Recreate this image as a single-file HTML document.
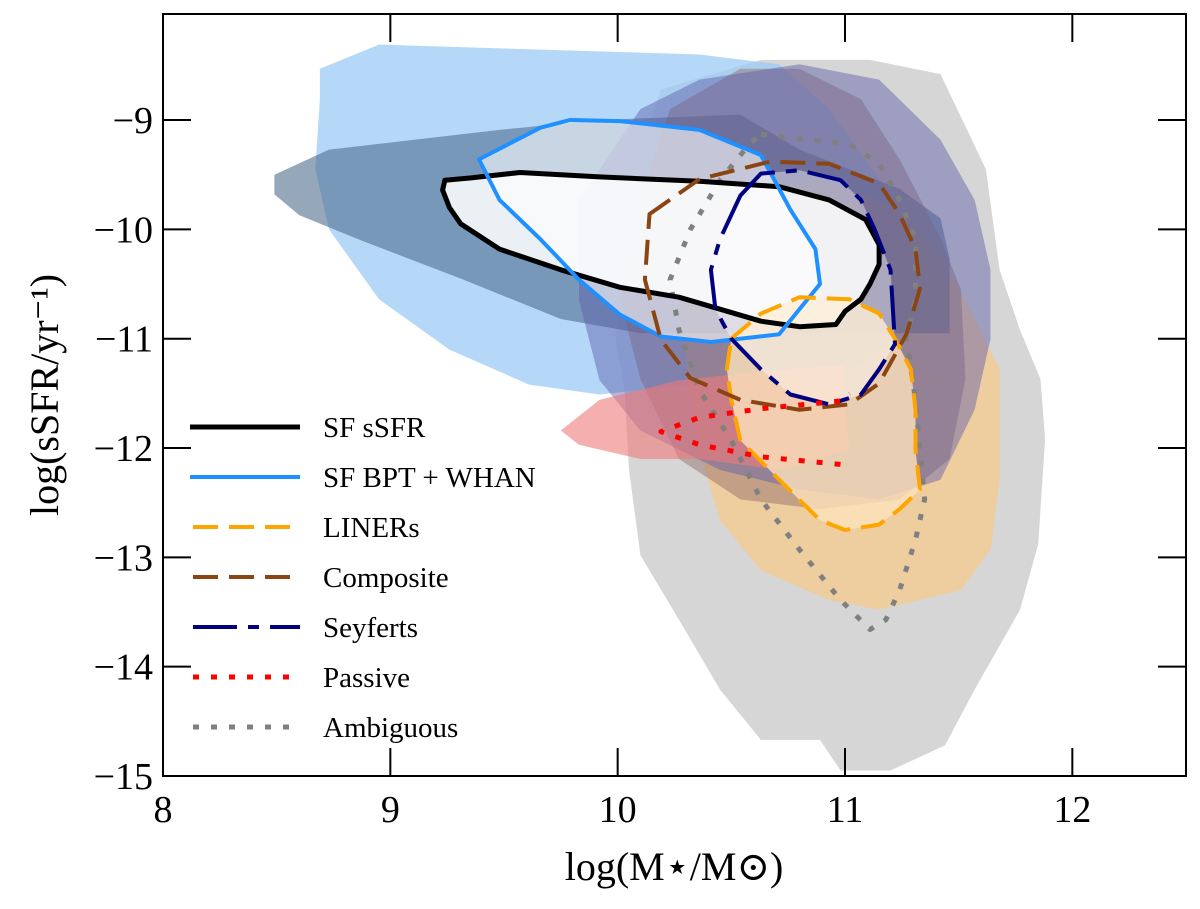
<!DOCTYPE html>
<html><head><meta charset="utf-8"><style>
html,body{margin:0;padding:0;background:#fff;}
svg text{font-family:"Liberation Serif","DejaVu Serif",serif;fill:#000;}
</style></head><body>
<svg id="chart" width="1200" height="904" viewBox="0 0 1200 904" xmlns="http://www.w3.org/2000/svg">
<g id="fills"></g>
<g id="lines"></g>
<g id="axes"></g>
<g id="legend"></g>
</svg>
<script>
const xTicks=[8,9,10,11,12];
const yTicks=[-15,-14,-13,-12,-11,-10,-9];
const xTickLabels=["8","9","10","11","12"];
const yTickLabels=["\u221215","\u221214","\u221213","\u221212","\u221211","\u221210","\u22129"];
const ambFill=[[10.19,-8.72],[10.63,-8.45],[11.11,-8.45],[11.42,-8.58],[11.62,-9.45],[11.68,-10.37],[11.77,-10.92],[11.86,-11.37],[11.88,-11.92],[11.85,-12.88],[11.77,-13.48],[11.57,-14.21],[11.44,-14.72],[11.2,-14.95],[10.98,-14.95],[10.89,-14.67],[10.63,-14.67],[10.45,-14.21],[10.27,-13.57],[10.1,-12.98],[10.05,-12.2],[10.03,-11.47],[9.99,-11.0],[10.05,-10.08],[10.1,-9.27]];
const bptFill=[[8.69,-8.53],[8.95,-8.31],[10.36,-8.4],[10.71,-8.49],[10.93,-8.9],[11.15,-9.54],[11.29,-10.0],[11.33,-10.46],[11.24,-11.0],[11.02,-11.28],[10.58,-11.37],[10.14,-11.46],[9.92,-11.51],[9.61,-11.42],[9.26,-11.1],[8.95,-10.64],[8.73,-10.0],[8.67,-9.45],[8.69,-8.81]];
const ssfrFill=[[8.49,-9.5],[8.73,-9.27],[9.48,-9.09],[9.92,-9.0],[10.54,-8.95],[10.8,-9.27],[11.24,-9.63],[11.42,-9.9],[11.46,-10.27],[11.46,-10.95],[10.36,-10.95],[10.1,-10.95],[9.75,-10.82],[9.31,-10.45],[8.87,-10.1],[8.6,-9.87],[8.49,-9.68]];
const linerFill=[[10.27,-10.17],[10.45,-9.73],[10.89,-9.54],[11.24,-9.82],[11.42,-10.27],[11.55,-10.73],[11.68,-11.28],[11.68,-12.29],[11.64,-12.93],[11.51,-13.3],[11.15,-13.48],[10.93,-13.39],[10.63,-13.12],[10.45,-12.66],[10.36,-12.02],[10.32,-11.47],[10.27,-10.73]];
const compFill=[[10.23,-8.9],[10.54,-8.53],[10.8,-8.53],[11.07,-8.81],[11.24,-9.36],[11.42,-10.08],[11.51,-10.55],[11.53,-11.37],[11.46,-12.1],[11.24,-12.47],[10.89,-12.56],[10.54,-12.47],[10.27,-12.1],[10.1,-11.37],[10.01,-10.64],[10.1,-9.73]];
const seyFill=[[9.83,-9.73],[10.1,-8.9],[10.36,-8.63],[10.8,-8.49],[11.15,-8.63],[11.42,-9.18],[11.57,-9.73],[11.64,-10.37],[11.64,-11.0],[11.57,-11.65],[11.42,-12.29],[11.15,-12.47],[10.8,-12.38],[10.45,-12.2],[10.1,-11.84],[9.92,-11.38],[9.83,-10.65]];
const pasFill=[[9.75,-11.84],[9.92,-11.56],[10.27,-11.38],[10.63,-11.3],[11.0,-11.24],[11.0,-11.56],[11.02,-12.02],[10.71,-12.2],[10.36,-12.1],[10.1,-12.1],[9.83,-11.97]];
const ssfrLine=[[9.24,-9.55],[9.35,-9.53],[9.57,-9.48],[9.92,-9.52],[10.36,-9.56],[10.71,-9.61],[10.93,-9.73],[11.09,-9.91],[11.15,-10.14],[11.15,-10.32],[11.11,-10.5],[11.07,-10.64],[11.0,-10.75],[10.96,-10.87],[10.8,-10.89],[10.63,-10.84],[10.45,-10.73],[10.27,-10.62],[10.01,-10.53],[9.75,-10.37],[9.48,-10.18],[9.31,-9.95],[9.26,-9.8],[9.23,-9.64]];
const bptLine=[[9.39,-9.36],[9.66,-9.07],[9.79,-9.0],[10.01,-9.01],[10.36,-9.09],[10.63,-9.32],[10.76,-9.82],[10.87,-10.18],[10.89,-10.5],[10.71,-10.96],[10.41,-11.03],[10.19,-10.98],[10.01,-10.78],[9.83,-10.46],[9.66,-10.09],[9.48,-9.73]];
const linerLine=[[10.5,-11.0],[10.63,-10.77],[10.8,-10.62],[11.02,-10.64],[11.15,-10.77],[11.22,-11.0],[11.29,-11.28],[11.31,-11.65],[11.31,-12.02],[11.33,-12.38],[11.24,-12.56],[11.15,-12.7],[11.0,-12.75],[10.89,-12.66],[10.71,-12.29],[10.54,-11.93],[10.5,-11.56],[10.48,-11.28]];
const compLine=[[10.14,-9.86],[10.36,-9.54],[10.67,-9.38],[10.93,-9.4],[11.15,-9.58],[11.24,-9.86],[11.31,-10.18],[11.33,-10.54],[11.27,-10.96],[11.15,-11.41],[11.02,-11.6],[10.8,-11.65],[10.54,-11.56],[10.32,-11.36],[10.19,-11.01],[10.12,-10.46]];
const seyLine=[[10.54,-9.69],[10.63,-9.49],[10.8,-9.46],[10.98,-9.55],[11.07,-9.73],[11.13,-10.0],[11.2,-10.37],[11.22,-11.05],[11.15,-11.28],[11.07,-11.51],[10.93,-11.6],[10.76,-11.51],[10.63,-11.28],[10.5,-11.0],[10.43,-10.73],[10.41,-10.37],[10.45,-10.09]];
const pasLine=[[10.98,-12.15],[10.63,-12.08],[10.36,-11.97],[10.19,-11.85],[10.36,-11.72],[10.63,-11.64],[10.98,-11.57],[11.02,-11.5]];
const ambLine=[[10.63,-9.13],[10.8,-9.17],[11.02,-9.22],[11.15,-9.4],[11.24,-9.73],[11.31,-10.09],[11.31,-10.64],[11.27,-11.0],[11.31,-11.56],[11.33,-12.02],[11.35,-12.47],[11.31,-12.84],[11.24,-13.3],[11.18,-13.57],[11.11,-13.66],[10.98,-13.39],[10.8,-12.93],[10.63,-12.47],[10.5,-11.93],[10.36,-11.47],[10.27,-10.92],[10.23,-10.46],[10.32,-10.0],[10.45,-9.55],[10.58,-9.22]];

const L=163,R=1186,T=14,B=776,X0=8,X1=12.5,Y0=-15,Y1=-8.03;
const sx=v=>L+(v-X0)/(X1-X0)*(R-L);
const sy=v=>B-(v-Y0)/(Y1-Y0)*(B-T);
const NS="http://www.w3.org/2000/svg";
function mk(tag,parent){const e=document.createElementNS(NS,tag);document.getElementById(parent).appendChild(e);return e;}
const pts=a=>a.map(p=>sx(p[0]).toFixed(1)+","+sy(p[1]).toFixed(1)).join(" ");

function fill(a,color,op,name){const e=mk("polygon","fills");e.setAttribute("points",pts(a));e.setAttribute("fill",color);e.setAttribute("fill-opacity",op);

}
fill(ambFill,"#c8c8c8",0.75,"ambiguous-fill");
fill(bptFill,"#9ccbf7",0.75,"sf-bpt-fill");
fill(linerFill,"#f5c98c",0.75,"liners-fill");
fill(ssfrFill,"#4f6e8c",0.6,"sf-ssfr-fill");
fill(compFill,"#8e6a66",0.45,"composite-fill");
fill(seyFill,"#5b5ba8",0.45,"seyferts-fill");
fill(pasFill,"#f07a7a",0.6,"passive-fill");
fill(ssfrLine,"#ffffff",0.85,"sf-ssfr-core");
fill(bptLine,"#ffffff",0.6,"sf-bpt-core");
fill(linerLine,"#fde2bb",0.8,"liners-core");
fill(seyLine,"#ffffff",0.4,"seyferts-core");

function line(a,color,w,dash,closed,name){const e=mk(closed?"polygon":"polyline","lines");e.setAttribute("points",pts(a));e.setAttribute("fill","none");e.setAttribute("stroke",color);e.setAttribute("stroke-width",w);e.setAttribute("stroke-linejoin","round");if(dash)e.setAttribute("stroke-dasharray",dash);

}
const styles=[
 ["SF sSFR","#000000",5,null],
 ["SF BPT + WHAN","#1e90ff",4,null],
 ["LINERs","#ffa500",4,"25,11"],
 ["Composite","#8b4513",4,"25,11"],
 ["Seyferts","#000080",4,"44,11,11,11"],
 ["Passive","#ff0000",5,"6,12"],
 ["Ambiguous","#808080",5,"6,12"]];
line(ambLine,"#808080",5,"6,12",true,"ambiguous-line");
line(ssfrLine,"#000",5,null,true,"sf-ssfr-line");
line(bptLine,"#1e90ff",4,null,true,"sf-bpt-line");
line(linerLine,"#ffa500",4,"25,11",true,"liners-line");
line(compLine,"#8b4513",4,"25,11",true,"composite-line");
line(seyLine,"#000080",4,"44,11,11,11",true,"seyferts-line");
line(pasLine,"#ff0000",5,"6,12",false,"passive-line");

const fr=mk("rect","axes");fr.setAttribute("x",L);fr.setAttribute("y",T);fr.setAttribute("width",R-L);fr.setAttribute("height",B-T);fr.setAttribute("fill","none");fr.setAttribute("stroke","#000");fr.setAttribute("stroke-width",2);


xTicks.forEach((v,i)=>{const x=sx(v);
 [[B,B-28],[T,T+28]].forEach(([a,b])=>{const t=mk("line","axes");t.setAttribute("x1",x);t.setAttribute("x2",x);t.setAttribute("y1",a);t.setAttribute("y2",b);t.setAttribute("stroke","#000");t.setAttribute("stroke-width",2);
 
 });
 const tx=mk("text","axes");tx.setAttribute("x",x);tx.setAttribute("y",822);tx.setAttribute("text-anchor","middle");tx.setAttribute("font-size",38);tx.textContent=xTickLabels[i];
 
 });
yTicks.forEach((v,i)=>{const y=sy(v);
 [[L,L+28],[R,R-28]].forEach(([a,b])=>{const t=mk("line","axes");t.setAttribute("x1",a);t.setAttribute("x2",b);t.setAttribute("y1",y);t.setAttribute("y2",y);t.setAttribute("stroke","#000");t.setAttribute("stroke-width",2);
 
 });
 const tx=mk("text","axes");tx.setAttribute("x",153);tx.setAttribute("y",y+13);tx.setAttribute("text-anchor","end");tx.setAttribute("font-size",38);tx.textContent=yTickLabels[i];
 
 });
const xl=mk("text","axes");xl.setAttribute("x",674);xl.setAttribute("y",880);xl.setAttribute("text-anchor","middle");xl.setAttribute("font-size",40);xl.textContent="log(M\u22C6/M\u2299)";


const yl=mk("text","axes");yl.setAttribute("transform","translate(58,395) rotate(-90)");yl.setAttribute("text-anchor","middle");yl.setAttribute("font-size",40);yl.textContent="log(sSFR/yr\u207B\u00B9)";



styles.forEach((s,i)=>{const y=427+i*50;
 const l=mk("line","legend");l.setAttribute("x1",s[3]?193:190);l.setAttribute("x2",300);l.setAttribute("y1",y);l.setAttribute("y2",y);l.setAttribute("stroke",s[1]);l.setAttribute("stroke-width",s[2]);if(s[3])l.setAttribute("stroke-dasharray",s[3]);
 
 
 const t=mk("text","legend");t.setAttribute("x",323);t.setAttribute("y",y+10);t.setAttribute("font-size",29);t.textContent=s[0];
 
 });
</script>
</body></html>
